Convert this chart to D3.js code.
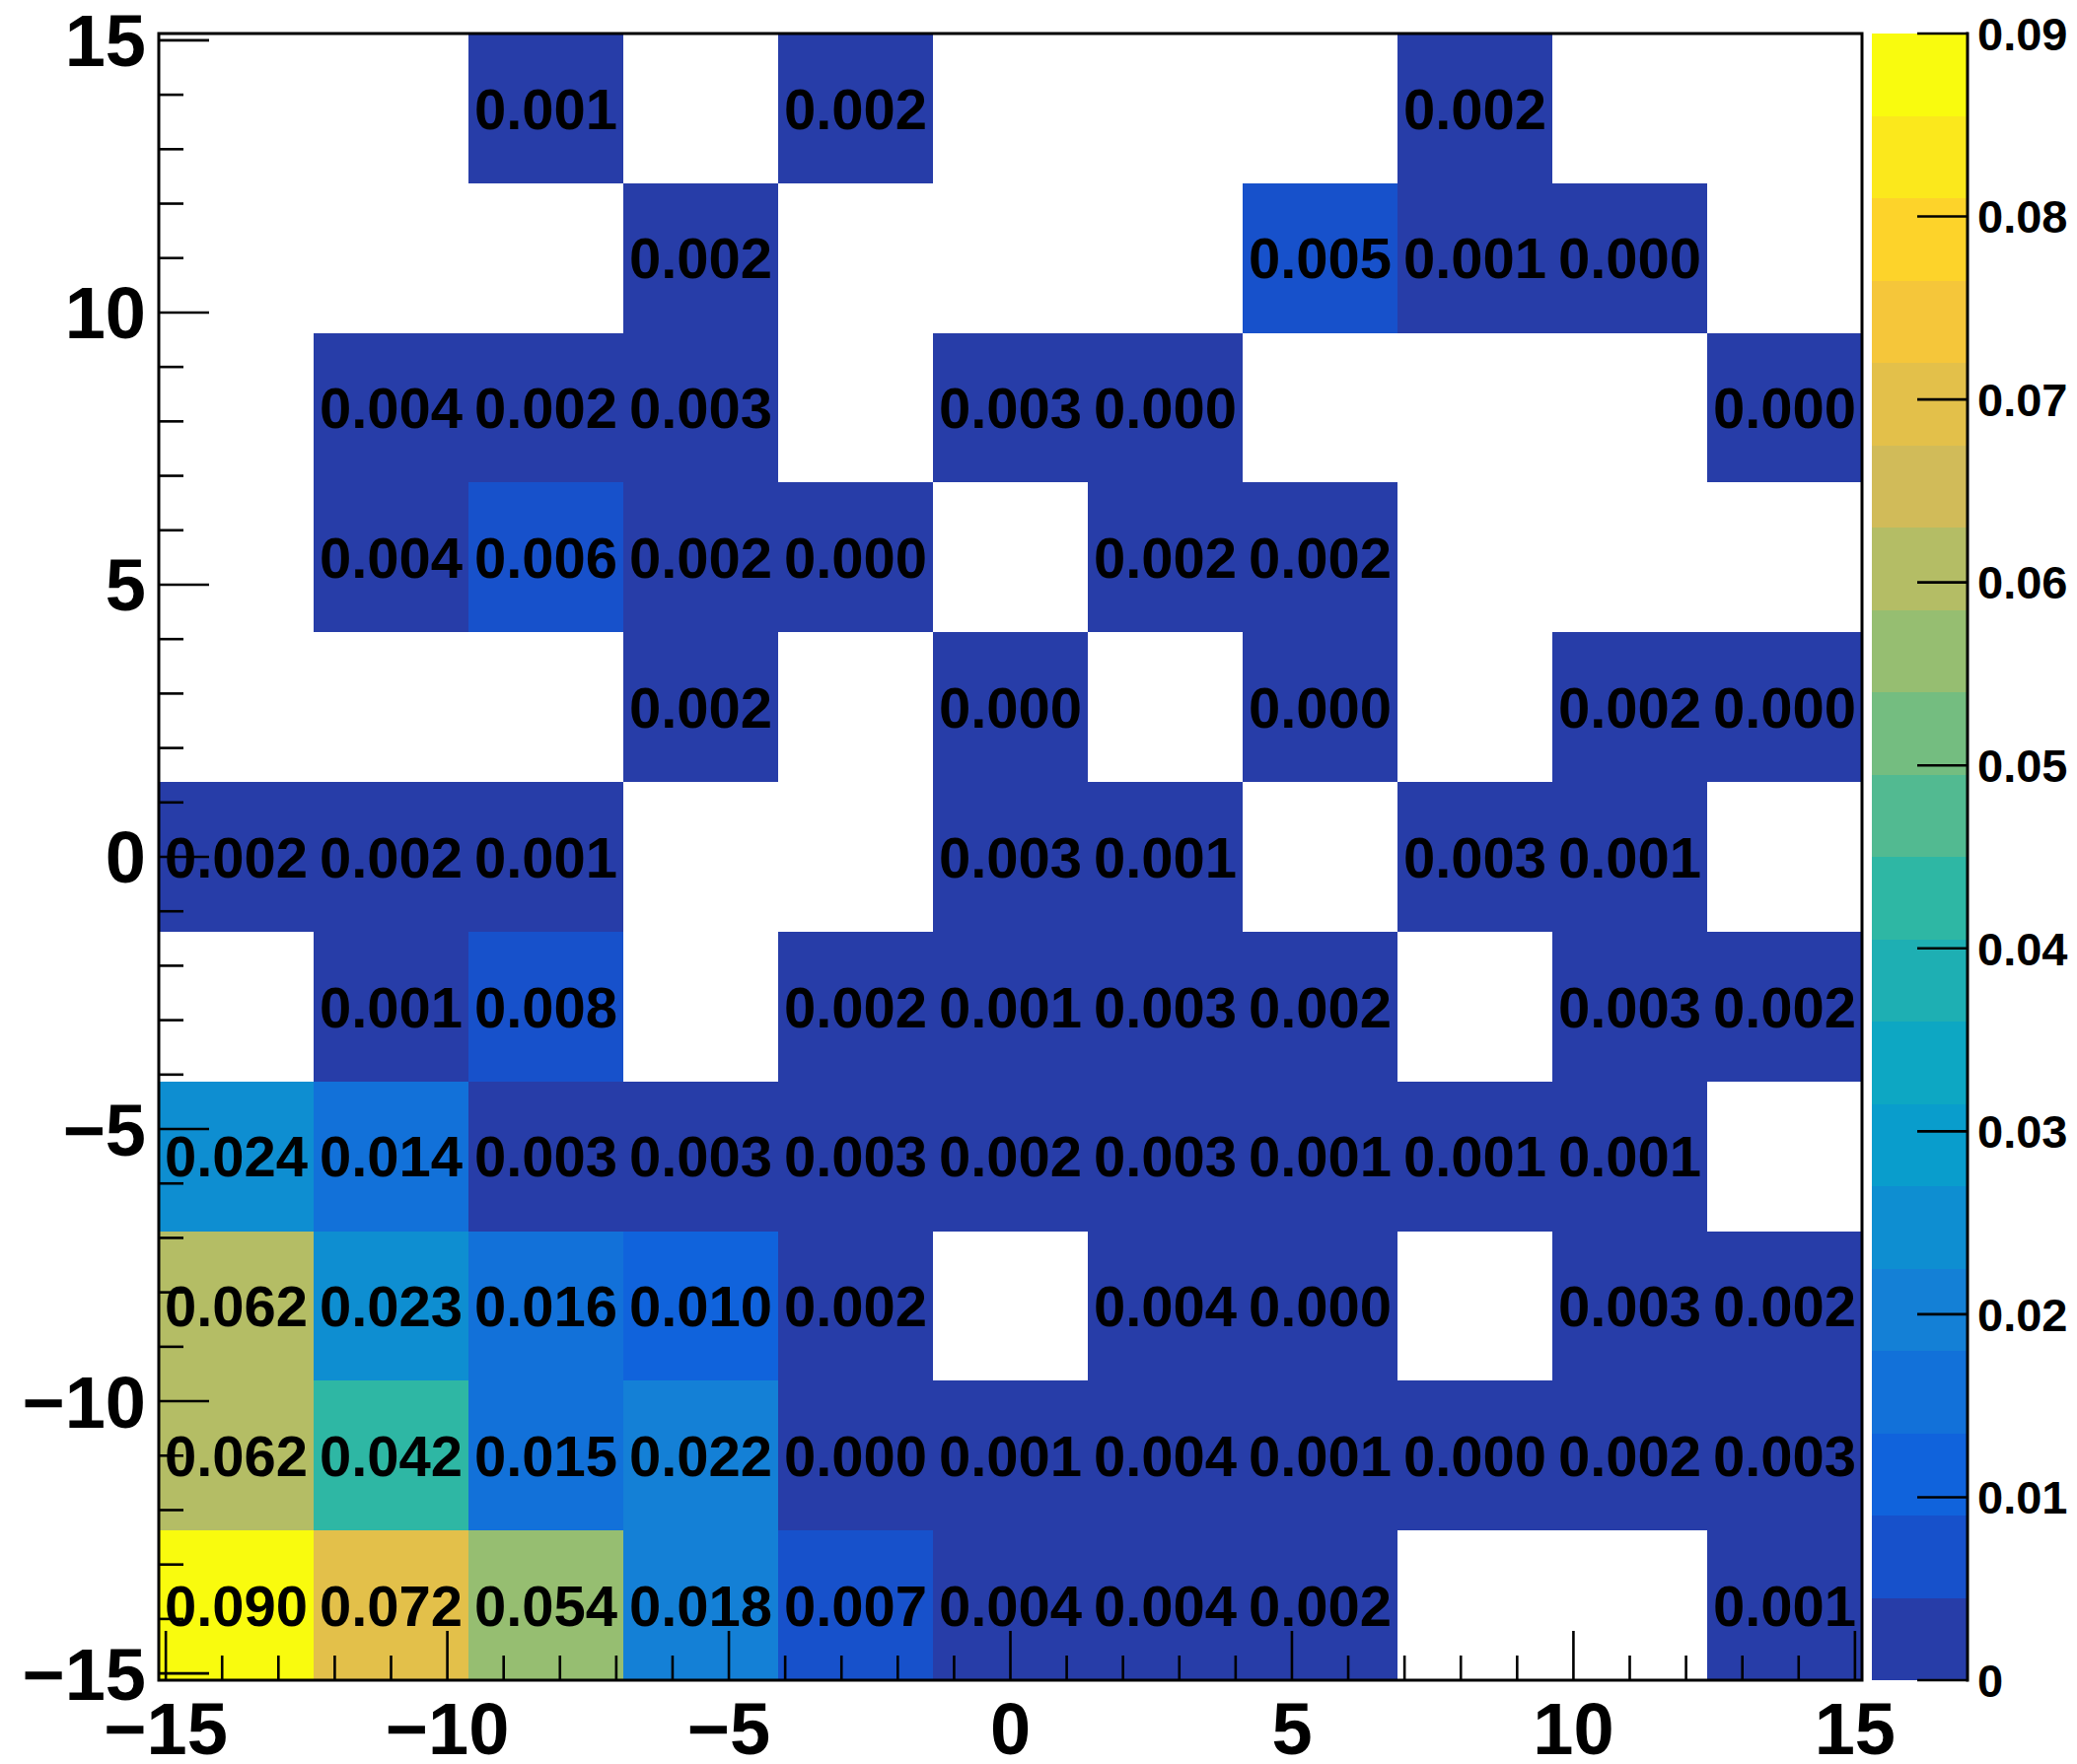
<!DOCTYPE html>
<html>
<head>
<meta charset="utf-8">
<script src="https://cdn.jsdelivr.net/npm/d3@7"></script>
<style>
  html, body { margin: 0; padding: 0; background: #ffffff; }
  svg { display: block; }
  text { font-family: "Liberation Sans", Arial, Helvetica, sans-serif; font-weight: bold; fill: #000; }
</style>
</head>
<body>
<svg id="chart" width="2106" height="1789"></svg>
<script>
// ---------------- DATA ----------------
// bin edges (x and y share the same binning)
const xEdges = [-15.125, -12.375, -9.625, -6.875, -4.125, -1.375, 1.375, 4.125, 6.875, 9.625, 12.375, 15.125];
const yEdges = [-15.125, -12.375, -9.625, -6.875, -4.125, -1.375, 1.375, 4.125, 6.875, 9.625, 12.375, 15.125];

// bin contents, one array per y-bin (bottom row first), columns left -> right; null = empty bin
const rowY1  = [0.0900, 0.0719, 0.0542, 0.0181, 0.007, 0.004, 0.004, 0.002, null, null, 0.001];
const rowY2  = [0.062, 0.042, 0.015, 0.022, 0.0004, 0.001, 0.004, 0.001, 0.0004, 0.002, 0.003];
const rowY3  = [0.062, 0.023, 0.016, 0.010, 0.002, null, 0.004, 0.0004, null, 0.003, 0.002];
const rowY4  = [0.024, 0.014, 0.003, 0.003, 0.003, 0.002, 0.003, 0.001, 0.001, 0.001, null];
const rowY5  = [null, 0.001, 0.008, null, 0.002, 0.001, 0.003, 0.002, null, 0.003, 0.002];
const rowY6  = [0.002, 0.002, 0.001, null, null, 0.003, 0.001, null, 0.003, 0.001, null];
const rowY7  = [null, null, null, 0.002, null, 0.0004, null, 0.0004, null, 0.002, 0.0004];
const rowY8  = [null, 0.004, 0.006, 0.002, 0.0004, null, 0.002, 0.002, null, null, null];
const rowY9  = [null, 0.004, 0.002, 0.003, null, 0.003, 0.0004, null, null, null, 0.0004];
const rowY10 = [null, null, null, 0.002, null, null, null, 0.005, 0.001, 0.0004, null];
const rowY11 = [null, null, 0.001, null, 0.002, null, null, null, 0.002, null, null];
const zRows = [rowY1, rowY2, rowY3, rowY4, rowY5, rowY6, rowY7, rowY8, rowY9, rowY10, rowY11];

// axis ticks
const xMajorTicks = [-15, -10, -5, 0, 5, 10, 15];
const yMajorTicks = [-15, -10, -5, 0, 5, 10, 15];
const xMinorTicks = d3.range(-15, 16, 1);
const yMinorTicks = d3.range(-15, 16, 1);
const zTicks = [0, 0.01, 0.02, 0.03, 0.04, 0.05, 0.06, 0.07, 0.08, 0.09];
const zTickLabels = ["0", "0.01", "0.02", "0.03", "0.04", "0.05", "0.06", "0.07", "0.08", "0.09"];
const zMin = 0, zMax = 0.09, nLevels = 20;

// kBird palette stops (ROOT palette 57)
const birdStops = [0.0000, 0.1250, 0.2500, 0.3750, 0.5000, 0.6250, 0.7500, 0.8750, 1.0000];
const birdRed   = [0.2082, 0.0592, 0.0780, 0.0232, 0.1802, 0.5301, 0.8186, 0.9956, 0.9764];
const birdGreen = [0.1664, 0.3599, 0.5041, 0.6419, 0.7178, 0.7492, 0.7328, 0.7862, 0.9832];
const birdBlue  = [0.5293, 0.8684, 0.8385, 0.7914, 0.6425, 0.4662, 0.3499, 0.1968, 0.0539];

// ---------------- LAYOUT ----------------
const frame = { left: 161, right: 1888, top: 34, bottom: 1704 };
const cbar = { left: 1898, right: 1995 };

const svg = d3.select("#chart");
svg.append("rect").attr("width", 2106).attr("height", 1789).attr("fill", "#fff");

const x = d3.scaleLinear().domain([xEdges[0], xEdges[xEdges.length - 1]]).range([frame.left, frame.right]);
const y = d3.scaleLinear().domain([yEdges[0], yEdges[yEdges.length - 1]]).range([frame.bottom, frame.top]);
const zScale = d3.scaleLinear().domain([zMin, zMax]).range([frame.bottom, frame.top]);

const rS = d3.scaleLinear().domain(birdStops).range(birdRed);
const gS = d3.scaleLinear().domain(birdStops).range(birdGreen);
const bS = d3.scaleLinear().domain(birdStops).range(birdBlue);
const nColors = 255;
function levelColor(L) {
  const idx = Math.floor((L + 0.99) * nColors / nLevels);
  const t = Math.min(idx, nColors - 1) / (nColors - 1);
  return d3.rgb(Math.round(rS(t) * 255), Math.round(gS(t) * 255), Math.round(bS(t) * 255)).toString();
}
function levelOf(v) {
  const L = Math.floor((v - zMin) / ((zMax - zMin) / nLevels));
  return Math.max(0, Math.min(nLevels - 1, L));
}

// cells
const cells = [];
zRows.forEach((row, j) => {
  row.forEach((v, i) => {
    if (v !== null) cells.push({ i, j, v });
  });
});

const gCells = svg.append("g");
gCells.selectAll("rect").data(cells).join("rect")
  .attr("x", d => x(xEdges[d.i]))
  .attr("y", d => y(yEdges[d.j + 1]))
  .attr("width", d => x(xEdges[d.i + 1]) - x(xEdges[d.i]))
  .attr("height", d => y(yEdges[d.j]) - y(yEdges[d.j + 1]))
  .attr("fill", d => levelColor(levelOf(d.v)))
  .attr("shape-rendering", "crispEdges");

const cellFont = 58;
gCells.selectAll("text").data(cells).join("text")
  .attr("x", d => (x(xEdges[d.i]) + x(xEdges[d.i + 1])) / 2)
  .attr("y", d => (y(yEdges[d.j]) + y(yEdges[d.j + 1])) / 2 + cellFont * 0.716 / 2)
  .attr("text-anchor", "middle")
  .attr("font-size", cellFont)
  .text(d => d.v.toFixed(3));

// frame
svg.append("rect")
  .attr("x", frame.left).attr("y", frame.top)
  .attr("width", frame.right - frame.left).attr("height", frame.bottom - frame.top)
  .attr("fill", "none").attr("stroke", "#000").attr("stroke-width", 3);

// ticks
const gAx = svg.append("g").attr("stroke", "#000").attr("stroke-width", 2.6);
gAx.selectAll(".xmin").data(xMinorTicks).join("line")
  .attr("x1", d => x(d)).attr("x2", d => x(d))
  .attr("y1", frame.bottom).attr("y2", d => frame.bottom - (xMajorTicks.includes(d) ? 50 : 25));
gAx.selectAll(".ymin").data(yMinorTicks).join("line")
  .attr("y1", d => y(d)).attr("y2", d => y(d))
  .attr("x1", frame.left).attr("x2", d => frame.left + (yMajorTicks.includes(d) ? 51 : 25));

const axFont = 74;
const fmt = v => (v < 0 ? "\u2212" + Math.abs(v) : String(v));
svg.append("g").selectAll("text").data(xMajorTicks).join("text")
  .attr("x", d => x(d)).attr("y", 1779)
  .attr("text-anchor", "middle").attr("font-size", axFont)
  .text(fmt);
svg.append("g").selectAll("text").data(yMajorTicks).join("text")
  .attr("x", 148).attr("y", d => y(d) + axFont * 0.716 / 2)
  .attr("text-anchor", "end").attr("font-size", axFont)
  .text(fmt);

// colour bar
const levels = d3.range(nLevels);
const lw = (zMax - zMin) / nLevels;
svg.append("g").selectAll("rect").data(levels).join("rect")
  .attr("x", cbar.left).attr("width", cbar.right - cbar.left)
  .attr("y", L => zScale(zMin + (L + 1) * lw))
  .attr("height", L => zScale(zMin + L * lw) - zScale(zMin + (L + 1) * lw))
  .attr("fill", L => levelColor(L))
  .attr("shape-rendering", "crispEdges");

svg.append("line")
  .attr("x1", cbar.right).attr("x2", cbar.right)
  .attr("y1", frame.top - 1.5).attr("y2", frame.bottom + 1.5)
  .attr("stroke", "#000").attr("stroke-width", 3);
svg.append("g").attr("stroke", "#000").attr("stroke-width", 2.6)
  .selectAll("line").data(zTicks).join("line")
  .attr("x1", cbar.right - 51).attr("x2", cbar.right)
  .attr("y1", d => zScale(d)).attr("y2", d => zScale(d));

const zFont = 47;
svg.append("g").selectAll("text").data(zTicks).join("text")
  .attr("x", 2005).attr("y", d => zScale(d) + zFont * 0.716 / 2)
  .attr("font-size", zFont)
  .text((d, i) => zTickLabels[i]);
</script>
</body>
</html>
